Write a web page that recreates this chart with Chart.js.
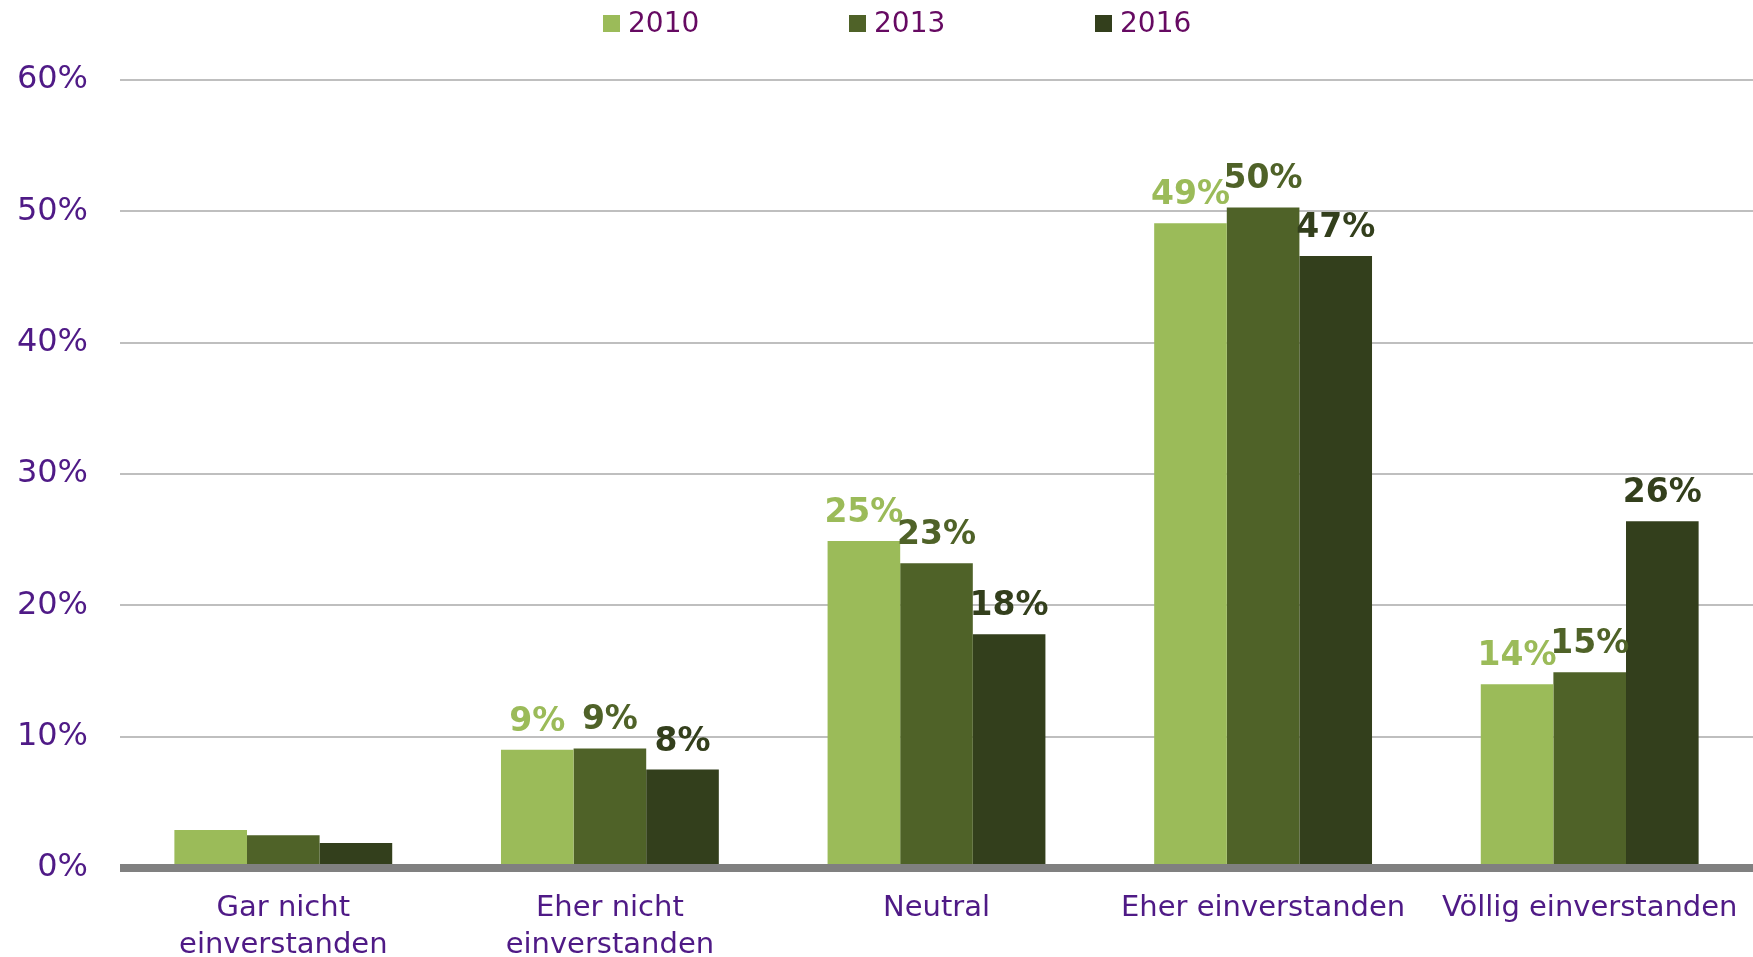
<!DOCTYPE html>
<html>
<head>
<meta charset="utf-8">
<script src="https://cdn.jsdelivr.net/npm/chart.js@4.4.1/dist/chart.umd.min.js"></script>
<style>
  html, body { margin: 0; padding: 0; background: #ffffff; overflow: hidden; }
  #wrap { width: 1753px; height: 957px; position: relative; }
</style>
</head>
<body>
<div id="wrap"><canvas id="c" width="1753" height="957"></canvas></div>
<script>
// ---- data ----
const categories = [
  ["Gar nicht", "einverstanden"],
  ["Eher nicht", "einverstanden"],
  "Neutral",
  "Eher einverstanden",
  "Völlig einverstanden"
];
const seriesNames = ["2010", "2013", "2016"];
const values2010 = [2.9, 9.0, 24.9, 49.1, 14.0];
const values2013 = [2.5, 9.1, 23.2, 50.3, 14.9];
const values2016 = [1.9, 7.5, 17.8, 46.6, 26.4];
const yTicks = [0, 10, 20, 30, 40, 50, 60];

// ---- styles ----
const colors = ["#9BBB59", "#4F6228", "#333F1C"];
const tickColor = "#4F1A86";
const legendColor = "#660A62";
const FONT = "'DejaVu Sans', Verdana, sans-serif";

const zeroLinePlugin = {
  id: 'zeroLine',
  afterDatasetsDraw(chart) {
    const y = chart.scales.y.getPixelForValue(0);
    const ctx = chart.ctx;
    ctx.save();
    ctx.strokeStyle = '#808080';
    ctx.lineWidth = 8;
    ctx.beginPath();
    ctx.moveTo(chart.chartArea.left, y);
    ctx.lineTo(chart.width, y);
    ctx.stroke();
    ctx.restore();
  }
};

const dataLabelPlugin = {
  id: 'dataLabels',
  afterDatasetsDraw(chart) {
    const ctx = chart.ctx;
    ctx.save();
    ctx.font = "bold 33px " + FONT;
    ctx.textAlign = 'center';
    ctx.textBaseline = 'alphabetic';
    chart.data.datasets.forEach((ds, di) => {
      const meta = chart.getDatasetMeta(di);
      meta.data.forEach((el, i) => {
        if (i === 0) return;
        ctx.fillStyle = ds.backgroundColor;
        ctx.fillText(Math.round(ds.data[i]) + '%', el.x, el.y - 19);
      });
    });
    ctx.restore();
  }
};

const legendPlugin = {
  id: 'customLegend',
  afterDraw(chart) {
    const ctx = chart.ctx;
    const startX = 603, step = 246, box = 17, boxTop = 15;
    ctx.save();
    ctx.font = "28px " + FONT;
    ctx.textBaseline = 'middle';
    ctx.textAlign = 'left';
    chart.data.datasets.forEach((ds, i) => {
      const x = startX + i * step;
      ctx.fillStyle = ds.backgroundColor;
      ctx.fillRect(x, boxTop, box, box);
      ctx.fillStyle = legendColor;
      ctx.fillText(ds.label, x + box + 8, 25);
    });
    ctx.restore();
  }
};

const seriesValues = [values2010, values2013, values2016];

new Chart(document.getElementById('c'), {
  type: 'bar',
  data: {
    labels: categories,
    datasets: seriesNames.map((name, i) => ({
      label: name,
      data: seriesValues[i],
      backgroundColor: colors[i],
      borderWidth: 0,
      categoryPercentage: 0.667,
      barPercentage: 1.0
    }))
  },
  options: {
    responsive: false,
    animation: false,
    devicePixelRatio: 1,
    layout: { padding: { top: 80, right: 0, bottom: 0, left: 0 } },
    plugins: {
      legend: { display: false },
      tooltip: { enabled: false }
    },
    scales: {
      x: {
        grid: { display: false, drawTicks: false },
        border: { display: false },
        ticks: {
          color: tickColor,
          font: { family: FONT, size: 29, lineHeight: 1.28 },
          padding: 22,
          maxRotation: 0,
          autoSkip: false
        },
        afterFit(scale) {
          scale.height = 89;
          scale.paddingLeft = 0;
          scale.paddingRight = 0;
        }
      },
      y: {
        min: 0,
        max: 60,
        afterBuildTicks(scale) { scale.ticks = yTicks.map(v => ({ value: v })); },
        grid: { color: '#BFBFBF', lineWidth: 2, drawTicks: false },
        border: { display: false },
        ticks: {
          color: tickColor,
          font: { family: FONT, size: 32 },
          padding: 32,
          callback: v => v + '%'
        },
        afterFit(scale) {
          scale.width = 120;
          scale.paddingTop = 0;
          scale.paddingBottom = 0;
        }
      }
    }
  },
  plugins: [zeroLinePlugin, dataLabelPlugin, legendPlugin]
});
</script>
</body>
</html>
